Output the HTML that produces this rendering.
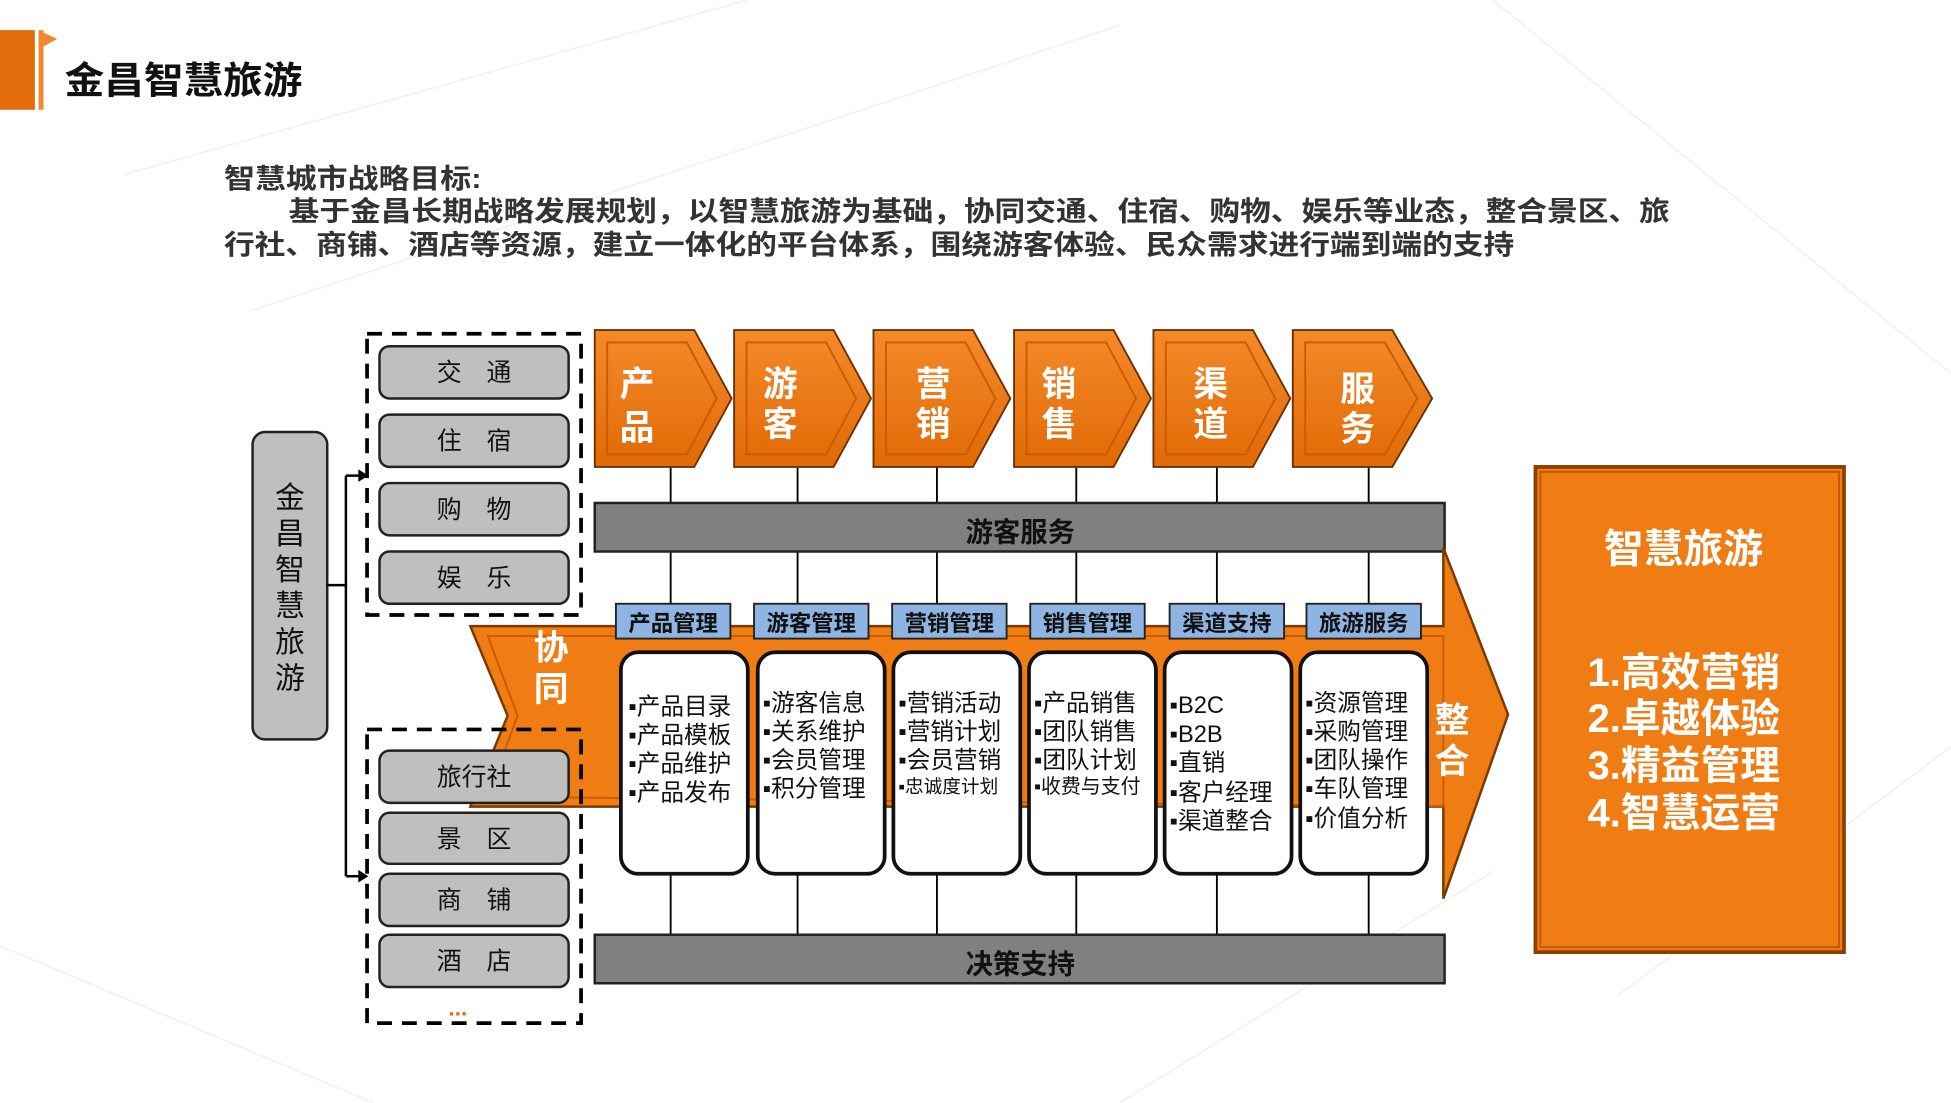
<!DOCTYPE html>
<html><head><meta charset="utf-8"><style>
html,body{margin:0;padding:0;background:#fff;}
svg{display:block;}
text{font-family:"Liberation Sans","Noto Sans CJK SC",sans-serif;}
</style></head><body>
<svg width="1951" height="1103" viewBox="0 0 1568 886" xmlns="http://www.w3.org/2000/svg">
<defs>
<linearGradient id="og" x1="0" y1="0" x2="0" y2="1"><stop offset="0" stop-color="#f58a2a"/><stop offset="1" stop-color="#e06a05"/></linearGradient>
</defs>
<rect width="1568" height="886" fill="#fff"/>
<g stroke="#f2f3f5" stroke-width="1.5" fill="none">
<path d="M100 140 L600 0 M200 250 L900 20 M1200 0 L1568 300 M1300 800 L1568 600 M0 760 L300 886 M900 886 L1200 700"/>
</g>
<rect x="0" y="24" width="28" height="64" fill="#e06c0a"/>
<rect x="31" y="24" width="4" height="64" fill="#f08a30"/>
<polygon points="35,26 46,31 35,37" fill="#f08a30"/>
<text x="52" y="75" font-size="30" font-weight="bold" fill="#111" textLength="191" lengthAdjust="spacingAndGlyphs">金昌智慧旅游</text>

<g font-size="22" font-weight="bold" fill="#333">
<text x="180" y="151" textLength="207" lengthAdjust="spacingAndGlyphs">智慧城市战略目标:</text>
<text x="232" y="177" textLength="1110" lengthAdjust="spacingAndGlyphs">基于金昌长期战略发展规划，以智慧旅游为基础，协同交通、住宿、购物、娱乐等业态，整合景区、旅</text>
<text x="180" y="204" textLength="1037" lengthAdjust="spacingAndGlyphs">行社、商铺、酒店等资源，建立一体化的平台体系，围绕游客体验、民众需求进行端到端的支持</text>
</g>

<g stroke="#000" stroke-width="1.5">
<path d="M539 375V404 M641 375V404 M753 375V404 M865 375V404 M978 375V404 M1100 375V404"/>
<path d="M539 443V485 M641 443V485 M753 443V485 M865 443V485 M978 443V485 M1100 443V485"/>
<path d="M539 703V751 M641 703V751 M753 703V751 M865 703V751 M978 703V751 M1100 703V751"/>
</g>

<g stroke="#6a3000" stroke-width="1.5" fill="url(#og)">
<polygon points="478,265 558,265 588,320 558,375 478,375"/>
<polygon points="590,265 670,265 700,320 670,375 590,375"/>
<polygon points="702,265 782,265 812,320 782,375 702,375"/>
<polygon points="815,265 895,265 925,320 895,375 815,375"/>
<polygon points="927,265 1007,265 1037,320 1007,375 927,375"/>
<polygon points="1039,265 1119,265 1151,320 1119,375 1039,375"/>
</g>
<g fill="none" stroke="#c95a00" stroke-width="1.5">
<polygon points="488,275 552,275 576,320 552,365 488,365"/>
<polygon points="600,275 664,275 688,320 664,365 600,365"/>
<polygon points="712,275 776,275 800,320 776,365 712,365"/>
<polygon points="825,275 889,275 913,320 889,365 825,365"/>
<polygon points="937,275 1001,275 1025,320 1001,365 937,365"/>
<polygon points="1049,275 1113,275 1139,320 1113,365 1049,365"/>
</g>
<g font-size="28" font-weight="bold" fill="#fff">
<text x="498" y="318">产</text><text x="498" y="353">品</text>
<text x="613" y="318">游</text><text x="613" y="350">客</text>
<text x="736" y="318">营</text><text x="736" y="350">销</text>
<text x="837" y="318">销</text><text x="837" y="350">售</text>
<text x="959" y="318">渠</text><text x="959" y="350">道</text>
<text x="1077" y="322">服</text><text x="1077" y="354">务</text>
</g>

<rect x="478" y="404" width="683" height="39" fill="#808080" stroke="#222" stroke-width="2"/>
<text x="820" y="435" font-size="22" font-weight="bold" fill="#111" text-anchor="middle">游客服务</text>

<polygon points="378,503 1160,503 1160,440 1212,574 1160,722 1160,648 378,648 408,575" fill="#f07c14" stroke="#7a3a00" stroke-width="2"/>
<polygon points="392,511 1160,511 1160,648 392,640 416,575" fill="none" stroke="#c85a00" stroke-width="1.5"/>
<g font-size="28" font-weight="bold" fill="#fff">
<text x="429" y="530">协</text><text x="429" y="563">同</text>
<text x="1153" y="588">整</text><text x="1153" y="621">合</text>
</g>

<rect x="203" y="347" width="60" height="247" rx="10" fill="#bfbfbf" stroke="#222" stroke-width="2"/>
<g font-size="24" fill="#111" text-anchor="middle">
<text x="233" y="408">金</text><text x="233" y="437">昌</text><text x="233" y="466">智</text><text x="233" y="495">慧</text><text x="233" y="524">旅</text><text x="233" y="553">游</text>
</g>
<path d="M263 470 H278 M278 382 V704 M278 382 H288 M278 704 H288" stroke="#000" stroke-width="2" fill="none"/>
<polygon points="288,377 296,382 288,387" fill="#000"/>
<polygon points="288,699 296,704 288,709" fill="#000"/>

<rect x="295" y="268" width="172" height="226" fill="none" stroke="#000" stroke-width="3" stroke-dasharray="12,8"/>
<rect x="295" y="586" width="172" height="236" fill="none" stroke="#000" stroke-width="3" stroke-dasharray="12,8"/>
<g fill="#bfbfbf" stroke="#222" stroke-width="2">
<rect x="305" y="278" width="152" height="42" rx="8"/>
<rect x="305" y="333" width="152" height="42" rx="8"/>
<rect x="305" y="388" width="152" height="42" rx="8"/>
<rect x="305" y="443" width="152" height="42" rx="8"/>
<rect x="305" y="603" width="152" height="42" rx="8"/>
<rect x="305" y="653" width="152" height="41" rx="8"/>
<rect x="305" y="702" width="152" height="42" rx="8"/>
<rect x="305" y="751" width="152" height="42" rx="8"/>
</g>
<g font-size="20" fill="#111" text-anchor="middle">
<text x="381" y="306">交　通</text><text x="381" y="361">住　宿</text><text x="381" y="416">购　物</text><text x="381" y="471">娱　乐</text>
<text x="381" y="631">旅行社</text><text x="381" y="681">景　区</text><text x="381" y="730">商　铺</text><text x="381" y="779">酒　店</text>
</g>
<text x="368" y="816" font-size="18" font-weight="bold" fill="#e06c0a" text-anchor="middle">...</text>

<g fill="#8eb4e3" stroke="#222" stroke-width="1.5">
<rect x="495" y="485" width="92" height="28"/><rect x="606" y="485" width="92" height="28"/><rect x="717" y="485" width="92" height="28"/>
<rect x="828" y="485" width="92" height="28"/><rect x="940" y="485" width="92" height="28"/><rect x="1050" y="485" width="92" height="28"/>
</g>
<g font-size="18" font-weight="bold" fill="#111" text-anchor="middle">
<text x="541" y="507">产品管理</text><text x="652" y="507">游客管理</text><text x="763" y="507">营销管理</text>
<text x="874" y="507">销售管理</text><text x="986" y="507">渠道支持</text><text x="1096" y="507">旅游服务</text>
</g>

<g fill="#fff" stroke="#111" stroke-width="3">
<rect x="499" y="524" width="102" height="178" rx="14"/><rect x="609" y="524" width="102" height="178" rx="14"/>
<rect x="718" y="524" width="102" height="178" rx="14"/><rect x="827" y="524" width="102" height="178" rx="14"/>
<rect x="936" y="524" width="102" height="178" rx="14"/><rect x="1045" y="524" width="102" height="178" rx="14"/>
</g>
<g font-size="19" fill="#111">
<text x="505" y="574">▪产品目录</text><text x="505" y="597">▪产品模板</text><text x="505" y="620">▪产品维护</text><text x="505" y="643">▪产品发布</text>
<text x="613" y="571">▪游客信息</text><text x="613" y="594">▪关系维护</text><text x="613" y="617">▪会员管理</text><text x="613" y="640">▪积分管理</text>
<text x="722" y="571">▪营销活动</text><text x="722" y="594">▪营销计划</text><text x="722" y="617">▪会员营销</text><text x="722" y="637" font-size="15">▪忠诚度计划</text>
<text x="831" y="571">▪产品销售</text><text x="831" y="594">▪团队销售</text><text x="831" y="617">▪团队计划</text><text x="831" y="637" font-size="16">▪收费与支付</text>
<text x="940" y="573">▪B2C</text><text x="940" y="596">▪B2B</text><text x="940" y="619">▪直销</text><text x="940" y="643">▪客户经理</text><text x="940" y="666">▪渠道整合</text>
<text x="1049" y="571">▪资源管理</text><text x="1049" y="594">▪采购管理</text><text x="1049" y="617">▪团队操作</text><text x="1049" y="640">▪车队管理</text><text x="1049" y="664">▪价值分析</text>
</g>

<rect x="478" y="751" width="683" height="39" fill="#808080" stroke="#222" stroke-width="2"/>
<text x="820" y="782" font-size="22" font-weight="bold" fill="#111" text-anchor="middle">决策支持</text>

<rect x="1234" y="375" width="248" height="390" fill="#f07c14" stroke="#8a4000" stroke-width="3"/>
<rect x="1238" y="379" width="240" height="382" fill="none" stroke="#c25600" stroke-width="1.5"/>
<text x="1353" y="452" font-size="32" font-weight="bold" fill="#fff" text-anchor="middle">智慧旅游</text>
<g font-size="32" font-weight="bold" fill="#fff">
<text x="1276" y="551">1.高效营销</text><text x="1276" y="588">2.卓越体验</text><text x="1276" y="626">3.精益管理</text><text x="1276" y="664">4.智慧运营</text>
</g>
</svg>
</body></html>
